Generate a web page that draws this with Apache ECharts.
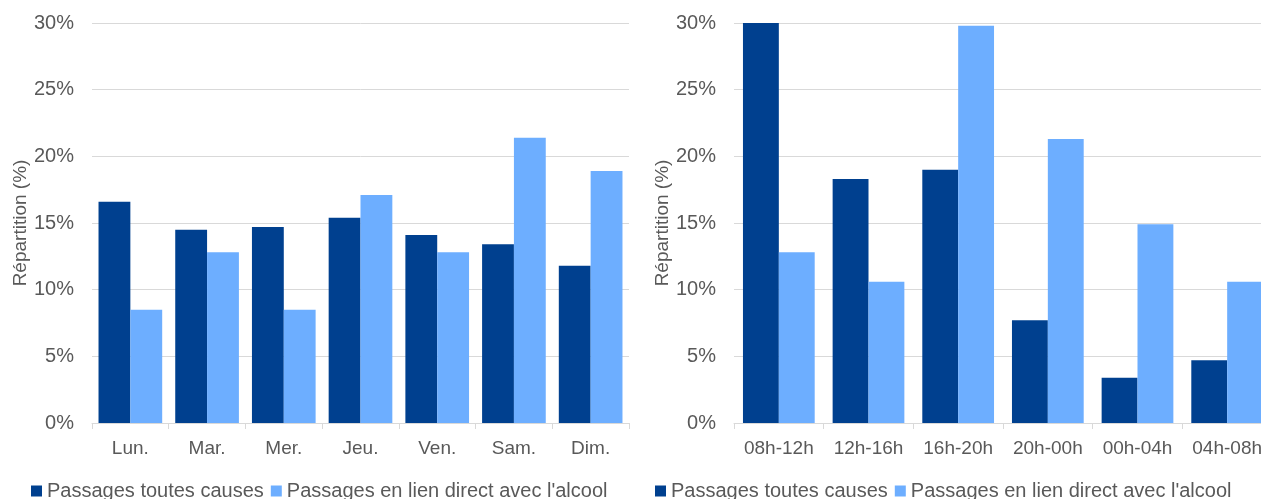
<!DOCTYPE html>
<html>
<head>
<meta charset="utf-8">
<style>
  html, body { margin: 0; padding: 0; background: #ffffff; }
  #chart { width: 1261px; height: 499px; }
</style>
<script src="https://cdn.jsdelivr.net/npm/echarts@6/dist/echarts.min.js"></script>
</head>
<body>
<div id="chart"></div>
<script>
// Répartition des passages aux urgences par jour de la semaine et par tranche horaire
const seriesNames = ['Passages toutes causes', "Passages en lien direct avec l'alcool"];

const days = ['Lun.', 'Mar.', 'Mer.', 'Jeu.', 'Ven.', 'Sam.', 'Dim.'];
const dayAllCauses = [16.6, 14.5, 14.7, 15.4, 14.1, 13.4, 11.8];
const dayAlcohol = [8.5, 12.8, 8.5, 17.1, 12.8, 21.4, 18.9];

const hours = ['08h-12h', '12h-16h', '16h-20h', '20h-00h', '00h-04h', '04h-08h'];
const hourAllCauses = [30.0, 18.3, 19.0, 7.7, 3.4, 4.7];
const hourAlcohol = [12.8, 10.6, 29.8, 21.3, 14.9, 10.6];

const yTicks = { min: 0, max: 30, interval: 5 };
const yAxisTitle = 'Répartition (%)';

const DARK = '#00408f';
const LIGHT = '#6daeff';
const TEXT = '#595959';
const GRID_LINE = '#d9d9d9';
const FONT = 'Liberation Sans, Arial, sans-serif';

function valueAxis(gridIndex) {
  return {
    type: 'value',
    gridIndex: gridIndex,
    min: yTicks.min,
    max: yTicks.max,
    interval: yTicks.interval,
    name: yAxisTitle,
    nameLocation: 'middle',
    nameGap: 62,
    nameTextStyle: { color: TEXT, fontFamily: FONT, fontSize: 19 },
    axisLine: { show: false },
    axisTick: { show: false },
    axisLabel: { color: TEXT, fontFamily: FONT, fontSize: 20, margin: 18, formatter: '{value}%' },
    splitLine: { lineStyle: { color: GRID_LINE, width: 1 } }
  };
}

function categoryAxis(gridIndex, data) {
  return {
    type: 'category',
    gridIndex: gridIndex,
    data: data,
    axisLine: { lineStyle: { color: GRID_LINE, width: 1 } },
    axisTick: { show: true, length: 6, lineStyle: { color: GRID_LINE } },
    axisLabel: { color: TEXT, fontFamily: FONT, fontSize: 19, margin: 16, interval: 0 }
  };
}

function barSeries(name, axisIndex, data, color, catGap) {
  return {
    name: name,
    type: 'bar',
    xAxisIndex: axisIndex,
    yAxisIndex: axisIndex,
    data: data,
    barGap: '0%',
    barCategoryGap: catGap,
    itemStyle: { color: color },
    emphasis: { disabled: true }
  };
}

function legend(left) {
  return {
    left: left,
    top: 481,
    padding: 0,
    icon: 'rect',
    itemWidth: 11,
    itemHeight: 11,
    itemGap: 7,
    data: seriesNames,
    textStyle: { color: TEXT, fontFamily: FONT, fontSize: 20 }
  };
}

const chart = echarts.init(document.getElementById('chart'), null, { renderer: 'canvas' });
chart.setOption({
  animation: false,
  backgroundColor: '#ffffff',
  grid: [
    { left: 92, top: 23, width: 537, height: 400, outerBoundsMode: 'none' },
    { left: 734, top: 23, width: 538, height: 400, outerBoundsMode: 'none' }
  ],
  xAxis: [categoryAxis(0, days), categoryAxis(1, hours)],
  yAxis: [valueAxis(0), valueAxis(1)],
  legend: [legend(31), legend(655)],
  series: [
    barSeries(seriesNames[0], 0, dayAllCauses, DARK, '17%'),
    barSeries(seriesNames[1], 0, dayAlcohol, LIGHT, '17%'),
    barSeries(seriesNames[0], 1, hourAllCauses, DARK, '20%'),
    barSeries(seriesNames[1], 1, hourAlcohol, LIGHT, '20%')
  ]
});
</script>
</body>
</html>
